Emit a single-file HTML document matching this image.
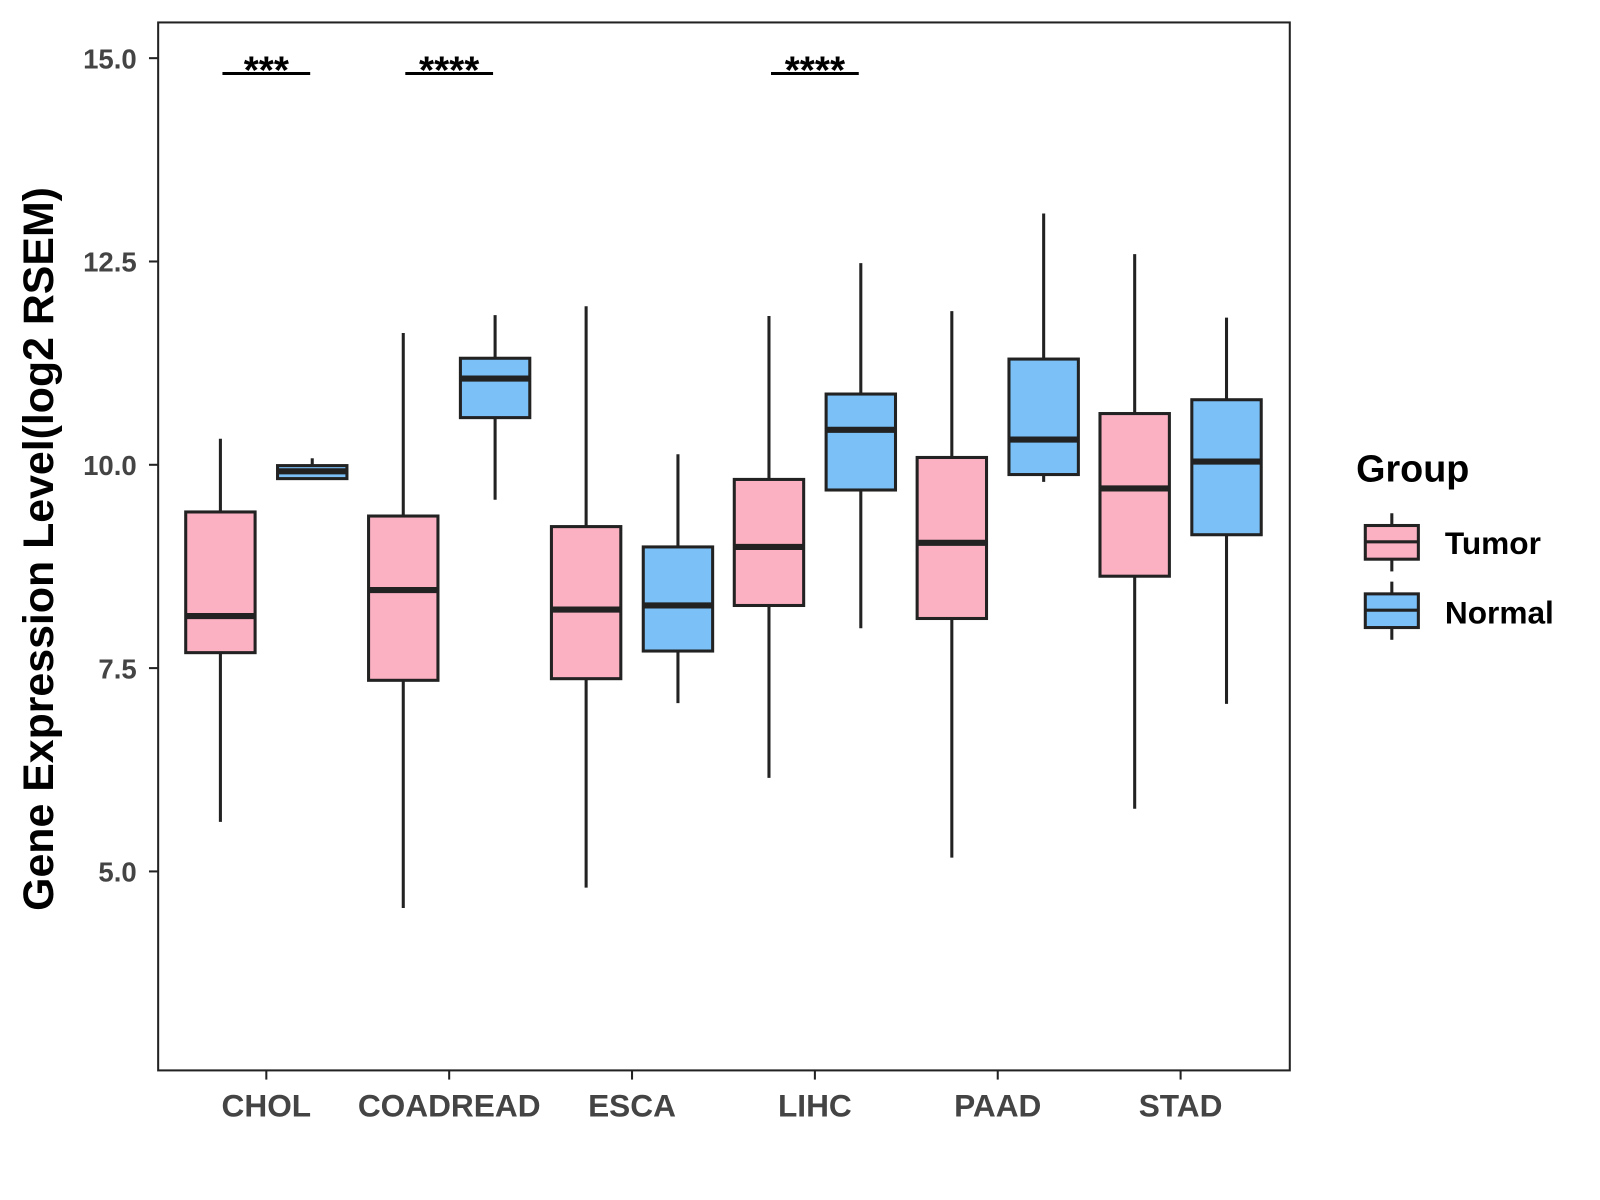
<!DOCTYPE html>
<html><head><meta charset="utf-8"><style>body{margin:0;background:#fff}svg{display:block}</style></head>
<body>
<svg id="chart" width="1600" height="1200" xmlns="http://www.w3.org/2000/svg" font-family="Liberation Sans, sans-serif">
<g transform="scale(1.0204)">
<rect x="155" y="22" width="1109" height="1027" fill="#fff" stroke="#222" stroke-width="2"/>
<g id="yticks"></g><g id="xticks"></g><g id="boxes"></g><g id="sig"></g>
<text transform="translate(52,538) rotate(-90)" text-anchor="middle" font-size="42" font-weight="bold">Gene Expression Level(log2 RSEM)</text>
<g>
<text x="1329" y="472" font-size="37" font-weight="bold">Group</text>
<g>
<line x1="1364" y1="503" x2="1364" y2="560" stroke="#222" stroke-width="3"/>
<rect x="1338" y="515" width="52" height="33" fill="#FBB1C2" stroke="#222" stroke-width="3"/>
<line x1="1338" y1="531" x2="1390" y2="531" stroke="#222" stroke-width="3"/>
<text x="1416" y="543" font-size="31" font-weight="bold">Tumor</text></g>
<g>
<line x1="1364" y1="570" x2="1364" y2="627" stroke="#222" stroke-width="3"/>
<rect x="1338" y="582" width="52" height="33" fill="#7BC1F8" stroke="#222" stroke-width="3"/>
<line x1="1338" y1="598" x2="1390" y2="598" stroke="#222" stroke-width="3"/>
<text x="1416" y="611" font-size="31" font-weight="bold">Normal</text></g>
</g>
</g>
</svg>
<script>
const categories=["CHOL","COADREAD","ESCA","LIHC","PAAD","STAD"];
const tumorStats=[[5.61,7.69,8.14,9.42,10.32],[4.55,7.35,8.46,9.37,11.62],[4.80,7.37,8.22,9.24,11.95],[6.15,8.27,8.99,9.82,11.83],[5.17,8.11,9.04,10.09,11.89],[5.77,8.63,9.71,10.63,12.59]];
const normalStats=[[9.83,9.83,9.92,9.99,10.08],[9.57,10.58,11.06,11.31,11.84],[7.07,7.71,8.27,8.99,10.13],[7.99,9.69,10.43,10.87,12.48],[9.79,9.88,10.31,11.30,13.09],[7.06,9.14,10.04,10.80,11.81]];
const yTicks=[5.0,7.5,10.0,12.5,15.0];
const sigLabels=["***","****","","****","",""];
const NS="http://www.w3.org/2000/svg";
const y=v=>57+(15-v)*79.7;
const x=i=>261+i*179.2;
function mk(tag,attrs,parent){const e=document.createElementNS(NS,tag);for(const k in attrs)e.setAttribute(k,attrs[k]);parent.appendChild(e);return e;}
const yt=document.getElementById('yticks');
yTicks.forEach(t=>{
 const l=mk('line',{x1:146,x2:155,y1:y(t),y2:y(t),stroke:'#222','stroke-width':2},yt);
 
 
 const tx=mk('text',{x:134,y:y(t)+10,'text-anchor':'end','font-size':27,'font-weight':'bold',fill:'#444'},yt);
 tx.textContent=t.toFixed(1);
 
 
});
const xt=document.getElementById('xticks');
categories.forEach((c,i)=>{
 const l=mk('line',{x1:x(i),x2:x(i),y1:1049,y2:1058,stroke:'#222','stroke-width':2},xt);
 
 
 const tx=mk('text',{x:x(i),y:1094,'text-anchor':'middle','font-size':31,'font-weight':'bold',fill:'#444'},xt);
 tx.textContent=c;
 
 
});
const bx=document.getElementById('boxes');
function box(s,cx,fill,name){
 const g=mk('g',{},bx);
 
 
 mk('line',{x1:cx,x2:cx,y1:y(s[4]),y2:y(s[0]),stroke:'#222','stroke-width':3},g);
 mk('rect',{x:cx-34,width:68,y:y(s[3]),height:Math.max(y(s[1])-y(s[3]),1),fill:fill,stroke:'#222','stroke-width':3},g);
 mk('line',{x1:cx-34,x2:cx+34,y1:y(s[2]),y2:y(s[2]),stroke:'#222','stroke-width':6},g);
}
categories.forEach((c,i)=>{
 box(tumorStats[i],x(i)-45,'#FBB1C2','box-tumor-'+c.toLowerCase());
 box(normalStats[i],x(i)+45,'#7BC1F8','box-normal-'+c.toLowerCase());
});
const sg=document.getElementById('sig');
sigLabels.forEach((s,i)=>{
 if(!s)return;
 const l=mk('line',{x1:x(i)-43,x2:x(i)+43,y1:72,y2:72,stroke:'#000','stroke-width':3},sg);
 
 
 const t=mk('text',{x:x(i),y:82,'text-anchor':'middle','font-size':38,'font-weight':'bold'},sg);
 t.textContent=s;
 
 
});
</script>
</body></html>
